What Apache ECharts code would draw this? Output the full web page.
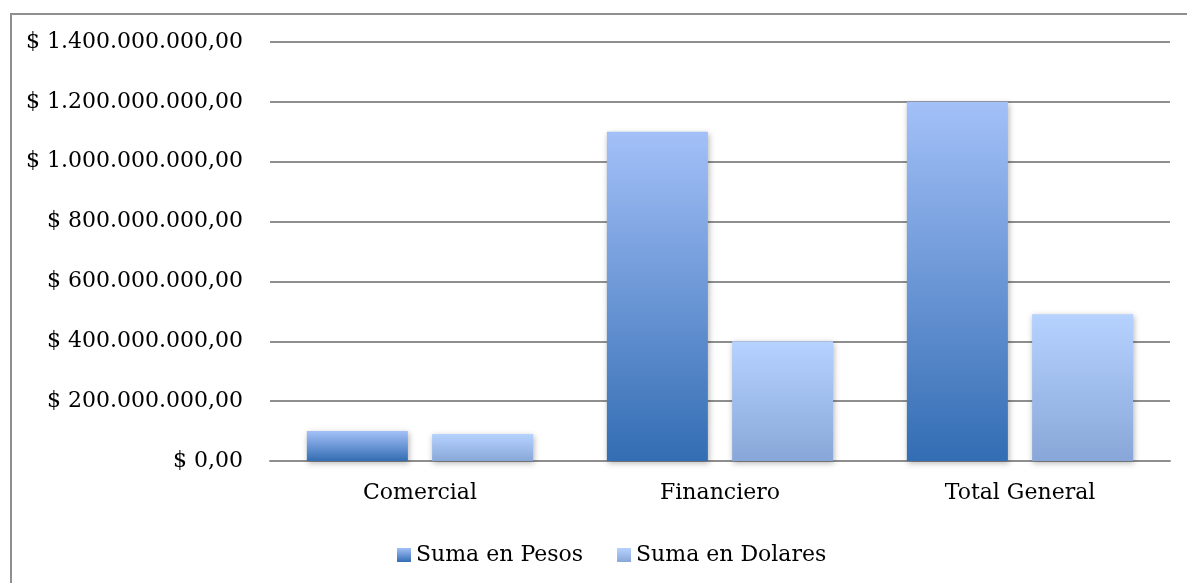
<!DOCTYPE html>
<html>
<head>
<meta charset="utf-8">
<script src="https://cdn.jsdelivr.net/npm/echarts@6/dist/echarts.min.js"></script>
<style>
  html, body { margin: 0; padding: 0; background: #fff; }
  #chart { width: 1187px; height: 583px; }
</style>
</head>
<body>
<div id="chart"></div>
<script>
const categories = ['Comercial', 'Financiero', 'Total General']
const seriesNames = ['Suma en Pesos', 'Suma en Dolares']
const pesos = [100000000, 1100000000, 1200000000]
const dolares = [90000000, 400000000, 490000000]

const FONT = '"DejaVu Serif", "Liberation Serif", serif'

function money(v) {
  const s = String(Math.round(v)).replace(/\B(?=(\d{3})+(?!\d))/g, '.')
  return '$ ' + s + ',00'
}

function grad(top, bottom) {
  return new echarts.graphic.LinearGradient(0, 0, 0, 1, [
    { offset: 0, color: top },
    { offset: 1, color: bottom },
  ])
}

const pesosColor = grad('#a3c0f8', '#336db3')
const dolaresColor = grad('#b6d2ff', '#88a7d8')

const chart = echarts.init(document.getElementById('chart'))
chart.setOption({
  animation: false,
  backgroundColor: '#fff',
  graphic: [
    {
      type: 'rect',
      shape: { x: 11, y: 14, width: 1200, height: 600 },
      style: { fill: 'none', stroke: '#8f8f8f', lineWidth: 2 },
      silent: true,
    },
  ],
  grid: { left: 270, right: 17, top: 42, bottom: 122, containLabel: false },
  legend: {
    data: seriesNames,
    left: 392,
    top: 539,
    icon: 'rect',
    itemWidth: 14,
    itemHeight: 14,
    itemGap: 34,
    textStyle: { fontFamily: FONT, fontSize: 22, color: '#000' },
  },
  xAxis: {
    type: 'category',
    data: categories,
    axisTick: { show: false },
    axisLine: { lineStyle: { color: '#8e8e8e', width: 2 } },
    axisLabel: { fontFamily: FONT, fontSize: 22, color: '#000', margin: 21 },
  },
  yAxis: {
    type: 'value',
    min: 0,
    max: 1400000000,
    interval: 200000000,
    axisLine: { show: false },
    axisTick: { show: false },
    splitLine: { lineStyle: { color: '#8e8e8e', width: 2 } },
    axisLabel: { fontFamily: FONT, fontSize: 22, color: '#000', margin: 27, formatter: money },
  },
  series: [
    {
      name: seriesNames[0],
      type: 'bar',
      data: pesos,
      barWidth: 101,
      barGap: '24%',
      itemStyle: { color: pesosColor, shadowBlur: 6, shadowColor: 'rgba(0,0,0,0.3)', shadowOffsetY: 2, shadowOffsetX: 1 },
    },
    {
      name: seriesNames[1],
      type: 'bar',
      data: dolares,
      barWidth: 101,
      itemStyle: { color: dolaresColor, shadowBlur: 6, shadowColor: 'rgba(0,0,0,0.3)', shadowOffsetY: 2, shadowOffsetX: 1 },
    },
  ],
})
</script>
</body>
</html>
